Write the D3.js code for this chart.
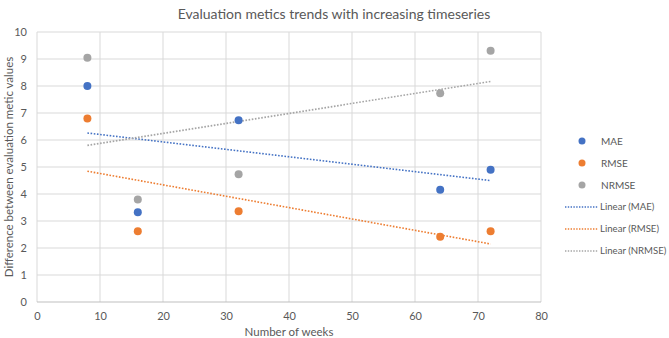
<!DOCTYPE html>
<meta charset="utf-8">
<script src="https://d3js.org/d3.v7.min.js"></script>
<style>
  body { margin: 0; background: #fff; }
  text { font-family: Lato, "Open Sans", sans-serif; fill: #595959; }
</style>
<div id="my_dataviz"></div>
<script>

// data
var weeks = [8, 16, 32, 64, 72];
var mae   = [8.0, 3.32, 6.73, 4.16, 4.9];
var rmse  = [6.8, 2.62, 3.36, 2.42, 2.62];
var nrmse = [9.05, 3.8, 4.73, 7.73, 9.31];
var seriesNames = ["MAE", "RMSE", "NRMSE"];
var seriesColors = ["#4472C4", "#ED7D31", "#A5A5A5"];
var xTicks = [0, 10, 20, 30, 40, 50, 60, 70, 80];
var yTicks = [0, 1, 2, 3, 4, 5, 6, 7, 8, 9, 10];

var W = 669, H = 338;
var margin = {top: 32, right: 128, bottom: 36, left: 37},
    width = W - margin.left - margin.right,
    height = H - margin.top - margin.bottom;

var root = d3.select("#my_dataviz").append("svg")
    .attr("width", W).attr("height", H);

var svg = root.append("g")
    .attr("transform", "translate(" + margin.left + "," + margin.top + ")");

var x = d3.scaleLinear().domain([0, 80]).range([0, width]);
var y = d3.scaleLinear().domain([0, 10]).range([height, 0]);

// gridlines
svg.append("g").selectAll("line.v").data(xTicks).enter().append("line")
    .attr("x1", function(d){ return x(d) }).attr("x2", function(d){ return x(d) })
    .attr("y1", 0).attr("y2", height)
    .style("stroke", "#D9D9D9").style("stroke-width", 1);
svg.append("g").selectAll("line.h").data(yTicks).enter().append("line")
    .attr("x1", 0).attr("x2", width)
    .attr("y1", function(d){ return y(d) }).attr("y2", function(d){ return y(d) })
    .style("stroke", function(d){ return d === 0 ? "#BFBFBF" : "#D9D9D9" })
    .style("stroke-width", 1);

// axes (labels only)
var xAxis = svg.append("g")
    .attr("transform", "translate(0," + height + ")")
    .call(d3.axisBottom(x).tickValues(xTicks).tickSize(0).tickPadding(10));
var yAxis = svg.append("g")
    .call(d3.axisLeft(y).tickValues(yTicks).tickSize(0).tickPadding(10));
[xAxis, yAxis].forEach(function(a){
  a.select(".domain").remove();
  a.selectAll("text").style("font-size", "11px").style("fill", "#595959")
    .style("font-family", "Lato, sans-serif");
});

var allSeries = [mae, rmse, nrmse];

// linear trendlines (least squares)
function fit(ys) {
  var mx = d3.mean(weeks), my = d3.mean(ys);
  var sxy = d3.sum(weeks, function(w, i){ return (w - mx) * (ys[i] - my) });
  var sxx = d3.sum(weeks, function(w){ return (w - mx) * (w - mx) });
  var b = sxy / sxx;
  return function(v){ return my + b * (v - mx) };
}
var x0 = d3.min(weeks), x1 = d3.max(weeks);
allSeries.forEach(function(ys, k){
  var f = fit(ys);
  svg.append("line")
    .attr("x1", x(x0)).attr("y1", y(f(x0)))
    .attr("x2", x(x1)).attr("y2", y(f(x1)))
    .style("stroke", seriesColors[k])
    .style("stroke-width", 1.6)
    .style("stroke-dasharray", "1.6,1.6");
});

// points
allSeries.forEach(function(ys, k){
  svg.append("g").selectAll("circle").data(ys).enter().append("circle")
    .attr("cx", function(d, i){ return x(weeks[i]) })
    .attr("cy", function(d){ return y(d) })
    .attr("r", 4)
    .style("fill", seriesColors[k]);
});

// title
root.append("text")
    .attr("x", 334).attr("y", 19)
    .attr("text-anchor", "middle")
    .style("font-size", "14px")
    .text("Evaluation metics trends with increasing timeseries");

// axis titles
root.append("text")
    .attr("x", margin.left + width / 2).attr("y", 336)
    .attr("text-anchor", "middle")
    .style("font-size", "11.5px")
    .text("Number of weeks");
root.append("text")
    .attr("transform", "translate(13," + (margin.top + height / 2) + ") rotate(-90)")
    .attr("text-anchor", "middle")
    .style("font-size", "11.5px")
    .text("Difference between evaluation metic values");

// legend
var legendY0 = 141, legendStep = 22;
var lg = root.append("g");
seriesNames.forEach(function(name, k){
  var yy = legendY0 + k * legendStep;
  lg.append("circle").attr("cx", 582).attr("cy", yy).attr("r", 3.5)
    .style("fill", seriesColors[k]);
  lg.append("text").attr("x", 601).attr("y", yy).attr("dy", "0.35em")
    .style("font-size", "10px").text(name);
});
seriesNames.forEach(function(name, k){
  var yy = legendY0 + (k + 3) * legendStep;
  lg.append("line").attr("x1", 565).attr("x2", 598).attr("y1", yy).attr("y2", yy)
    .style("stroke", seriesColors[k]).style("stroke-width", 1.4)
    .style("stroke-dasharray", "1.4,1.4");
  lg.append("text").attr("x", 600).attr("y", yy).attr("dy", "0.35em")
    .style("font-size", "9.6px").text("Linear (" + name + ")");
});

</script>
